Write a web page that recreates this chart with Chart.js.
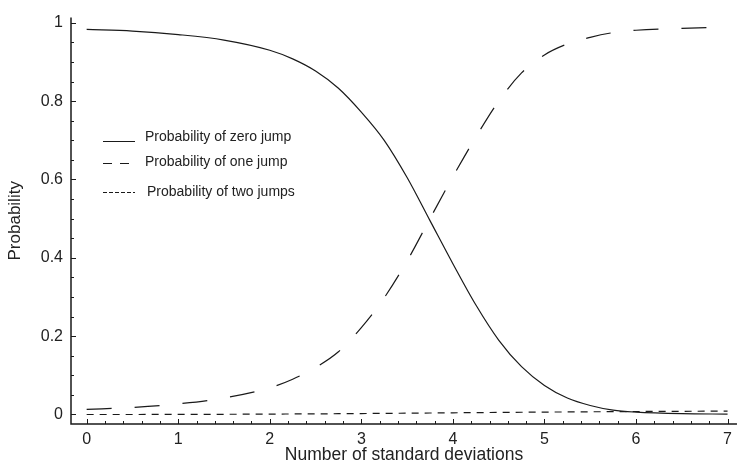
<!DOCTYPE html>
<html>
<head>
<meta charset="utf-8">
<script src="https://cdn.jsdelivr.net/npm/chart.js@4.4.1/dist/chart.umd.min.js"></script>
<style>
  html, body { margin: 0; padding: 0; background: #fff; }
  #wrap { width: 738px; height: 476px; }
</style>
</head>
<body>
<div id="wrap"><canvas id="chart-jumps"></canvas></div>
<script>
// Jump probabilities vs. number of standard deviations

const xValues = [0, 0.5, 1, 1.5, 2, 2.25, 2.5, 2.75, 3, 3.25, 3.5, 3.75, 4, 4.25, 4.5, 4.75, 5, 5.25, 5.5, 5.75, 6, 6.5, 7];
const zeroJump = [0.983, 0.979, 0.970, 0.956, 0.930, 0.908, 0.877, 0.833, 0.772, 0.700, 0.605, 0.495, 0.385, 0.280, 0.190, 0.122, 0.074, 0.042, 0.023, 0.011, 0.006, 0.002, 0.001];
const oneJump = [0.013, 0.018, 0.027, 0.042, 0.068, 0.090, 0.120, 0.160, 0.222, 0.298, 0.392, 0.500, 0.607, 0.708, 0.800, 0.872, 0.918, 0.946, 0.963, 0.975, 0.981, 0.986, 0.989];
const twoJumps = [0, 0, 0.0002, 0.0005, 0.001, 0.0013, 0.0016, 0.002, 0.0024, 0.0028, 0.0033, 0.0038, 0.0043, 0.0048, 0.0053, 0.0057, 0.0061, 0.0065, 0.0069, 0.0072, 0.0076, 0.0081, 0.0086];

const xTicks = [0, 1, 2, 3, 4, 5, 6, 7];
const yTicks = [0, 0.2, 0.4, 0.6, 0.8, 1];

const legendLabels = ['Probability of zero jump', 'Probability of one jump', 'Probability of two jumps'];

const INK = '#1a1a1a';
const FONT = '"Liberation Sans", Arial, sans-serif';

const toPoints = (ys) => xValues.map((x, i) => ({ x, y: ys[i] }));

// axis lines with inward major/minor ticks, drawn from the scales
const frameAxes = {
  id: 'frameAxes',
  afterDatasetsDraw(chart) {
    const { ctx, chartArea: a, scales: { x, y } } = chart;
    ctx.save();
    ctx.strokeStyle = INK;
    ctx.lineWidth = 1.5;
    ctx.beginPath();
    ctx.moveTo(a.left, a.top);
    ctx.lineTo(a.left, a.bottom);
    ctx.lineTo(a.right, a.bottom);
    ctx.stroke();

    ctx.lineWidth = 1;
    ctx.beginPath();
    for (let i = 0; i <= 35; i++) {
      const v = i * 0.2;
      const px = Math.round(x.getPixelForValue(v)) + 0.5;
      const len = i % 5 === 0 ? 5 : 3;
      ctx.moveTo(px, a.bottom);
      ctx.lineTo(px, a.bottom - len);
    }
    for (let i = 0; i <= 20; i++) {
      const v = i * 0.05;
      const py = Math.round(y.getPixelForValue(v)) + 0.5;
      const len = i % 4 === 0 ? 5 : 3;
      ctx.moveTo(a.left, py);
      ctx.lineTo(a.left + len, py);
    }
    ctx.stroke();
    ctx.restore();
  }
};

// legend box inside the plot, left side
const innerLegend = {
  id: 'innerLegend',
  afterDraw(chart) {
    const ctx = chart.ctx;
    const rows = [
      { lineY: 141, textY: 137.5, textX: 145, dash: [] },
      { lineY: 163, textY: 162, textX: 145, dash: [9, 8] },
      { lineY: 192, textY: 192, textX: 147, dash: [4, 2] },
    ];
    ctx.save();
    ctx.font = '14px ' + FONT;
    ctx.textBaseline = 'middle';
    ctx.fillStyle = '#222';
    rows.forEach((r, i) => {
      ctx.strokeStyle = INK;
      ctx.lineWidth = 1;
      ctx.setLineDash(r.dash);
      ctx.beginPath();
      ctx.moveTo(103, r.lineY + 0.5);
      ctx.lineTo(135, r.lineY + 0.5);
      ctx.stroke();
      ctx.fillText(legendLabels[i], r.textX, r.textY);
    });
    ctx.restore();
  }
};

const fmt = (v) => String(Math.round(v * 10) / 10);

new Chart(document.getElementById('chart-jumps'), {
  type: 'line',
  data: {
    datasets: [
      { label: legendLabels[0], data: toPoints(zeroJump), borderColor: INK, borderWidth: 1.2, pointRadius: 0, cubicInterpolationMode: 'monotone', fill: false },
      { label: legendLabels[1], data: toPoints(oneJump), borderColor: INK, borderWidth: 1.2, borderDash: [25, 23], pointRadius: 0, cubicInterpolationMode: 'monotone', fill: false },
      { label: legendLabels[2], data: toPoints(twoJumps), borderColor: INK, borderWidth: 1.2, borderDash: [7, 6], pointRadius: 0, cubicInterpolationMode: 'monotone', fill: false },
    ]
  },
  options: {
    responsive: true,
    maintainAspectRatio: false,
    animation: false,
    layout: { padding: { top: 9, right: 0, left: 0, bottom: 0 } },
    plugins: { legend: { display: false }, tooltip: { enabled: false } },
    scales: {
      x: {
        type: 'linear',
        min: -0.171,
        max: 7.103,
        grid: { display: false, drawTicks: false },
        border: { display: false },
        afterBuildTicks: (s) => { s.ticks = xTicks.map(v => ({ value: v })); },
        afterFit: (s) => { s.height = 52; },
        ticks: { color: '#222', padding: 6, font: { family: FONT, size: 16 }, callback: fmt, maxRotation: 0 },
        title: { display: true, text: 'Number of standard deviations', color: '#222', font: { family: FONT, size: 17.5 }, padding: { top: 0, bottom: 10 } },
      },
      y: {
        min: -0.0243,
        max: 1.0133,
        grid: { display: false, drawTicks: false },
        border: { display: false },
        afterBuildTicks: (s) => { s.ticks = yTicks.map(v => ({ value: v })); },
        afterFit: (s) => { s.width = 71; },
        ticks: { color: '#222', padding: 8, font: { family: FONT, size: 16 }, callback: fmt },
        title: { display: true, text: 'Probability', color: '#222', font: { family: FONT, size: 17 }, padding: { top: 5.5, bottom: 0 } },
      }
    }
  },
  plugins: [frameAxes, innerLegend]
});
</script>
</body>
</html>
